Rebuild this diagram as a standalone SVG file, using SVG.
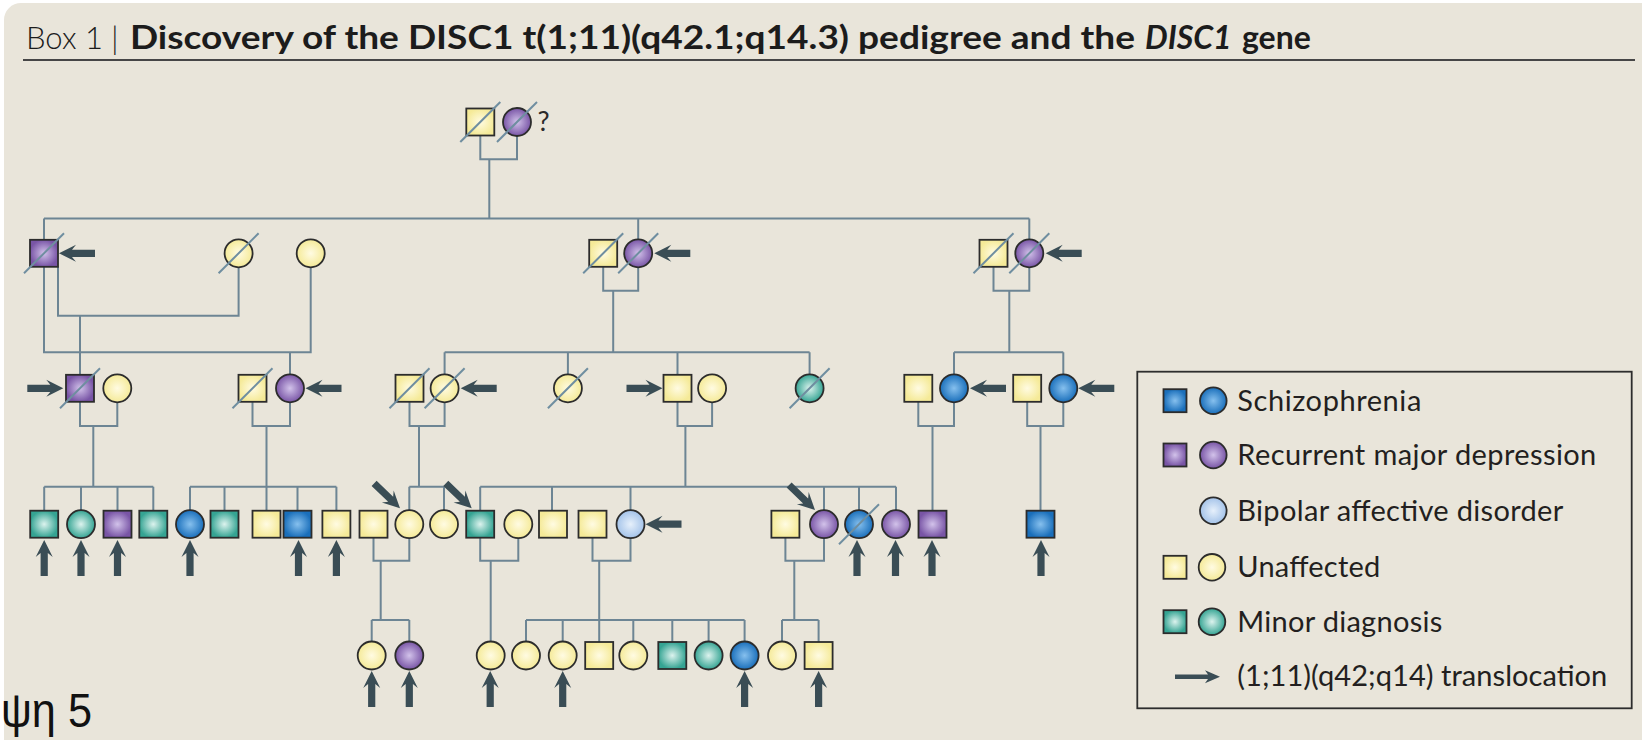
<svg xmlns="http://www.w3.org/2000/svg" xmlns:xlink="http://www.w3.org/1999/xlink" width="1642" height="740" viewBox="0 0 1642 740">
<style>
.ln{fill:none;stroke:#6d8594;stroke-width:2}
.s{stroke:#2c2c2c;stroke-width:1.8}
.sl{stroke:#6f8ea0;stroke-width:2}
.ar{fill:#3a4d55}
.Y{fill:url(#gY)}.P{fill:url(#gP)}.B{fill:url(#gB)}.L{fill:url(#gL)}.T{fill:url(#gT)}
.lg{font-family:Lato,"Open Sans","Liberation Sans",sans-serif;font-size:29px;fill:#231f20}
.tt{font-family:Lato,"Open Sans","Liberation Sans",sans-serif;font-size:32px;fill:#1c1c1c}
</style>
<defs>
<radialGradient id="gY"><stop offset="0" stop-color="#fffbe2"/><stop offset="1" stop-color="#f5ea98"/></radialGradient>
<radialGradient id="gP"><stop offset="0" stop-color="#d2c2ea"/><stop offset="1" stop-color="#7955a6"/></radialGradient>
<radialGradient id="gB"><stop offset="0" stop-color="#86c0ee"/><stop offset="1" stop-color="#1a6fbb"/></radialGradient>
<radialGradient id="gL"><stop offset="0" stop-color="#e6f0fb"/><stop offset="1" stop-color="#a4c3e9"/></radialGradient>
<radialGradient id="gT"><stop offset="0" stop-color="#dcf3ee"/><stop offset="1" stop-color="#35a493"/></radialGradient>
<path id="arw" d="M0,0 L-17,-8.5 L-13,-3.6 L-36,-3.6 L-36,3.6 L-13,3.6 L-17,8.5 Z"/>
<path id="arwS" d="M0,0 L-15,-6.5 L-12,-2.3 L-45,-2.3 L-45,2.3 L-12,2.3 L-15,6.5 Z"/>
</defs>
<rect x="0" y="0" width="1642" height="740" fill="#ffffff"/>
<rect x="4" y="3" width="1680" height="780" rx="17" fill="#e9e5da"/>
<g id="title">
<line x1="23" y1="60" x2="1635" y2="60" stroke="#464646" stroke-width="2.2"/>
<text class="tt" x="26" y="48.5" font-weight="300" textLength="77" lengthAdjust="spacingAndGlyphs">Box 1</text>
<text class="tt" x="111" y="48.5" font-weight="300">|</text>
<text class="tt" x="130" y="48.5" font-weight="700" textLength="1005" lengthAdjust="spacingAndGlyphs">Discovery of the DISC1 t(1;11)(q42.1;q14.3) pedigree and the</text>
<text class="tt" x="1145" y="48.5" font-weight="700" font-style="italic">DISC1</text>
<text class="tt" x="1242" y="48.5" font-weight="700">gene</text>
</g>
<text x="1" y="727" font-family="'Liberation Sans',sans-serif" font-size="48" fill="#111" textLength="91" lengthAdjust="spacingAndGlyphs">ψη 5</text>
<g id="connectors" class="ln">
<path d="M480.3,122 V159.3 H517 V122 M489.3,159.3 V218.5"/>
<path d="M44,218.5 H1029.3 M44,218.5 V253.3 M638.2,218.5 V253.3 M1029.3,218.5 V253.3"/>
<path d="M58,266.8 V315.7 H238.6 V253.3 M80,315.7 V388.3"/>
<path d="M44,253.3 V352.3 H310.7 V253.3 M290,352.3 V388.3"/>
<path d="M603.2,253.3 V290.7 H638.2 V253.3 M613.2,290.7 V352.3 M444.6,352.3 H809.6 M444.6,352.3 V388.3 M567.9,352.3 V388.3 M677.5,352.3 V388.3 M809.6,352.3 V388.3"/>
<path d="M993.5,253.3 V290.7 H1029.3 V253.3 M1009.3,290.7 V352.3 M954,352.3 H1063.3 M954,352.3 V388.3 M1063.3,352.3 V388.3"/>
<path d="M80,388.3 V426 H117.3 V388.3 M93.3,426 V486.7 M44.2,486.7 H153.3 M44.2,486.7 V524 M81,486.7 V524 M117.5,486.7 V524 M153.3,486.7 V524"/>
<path d="M252.5,388.3 V426 H290 V388.3 M266.5,426 V524 M190,486.7 H336.4 M190,486.7 V524 M224.5,486.7 V524 M297.5,486.7 V524 M336.4,486.7 V524"/>
<path d="M409.5,388.3 V426 H444.6 V388.3 M419,426 V486.7 M409.3,486.7 H444 M409.3,486.7 V524 M444,486.7 V524"/>
<path d="M677.5,388.3 V426 H712.1 V388.3 M685.4,426 V486.7 M480.2,486.7 H896 M480.2,486.7 V524 M552,486.7 V524 M630.5,486.7 V524 M824,486.7 V524 M859,486.7 V524 M896,486.7 V524"/>
<path d="M918.3,388.3 V426 H954 V388.3 M932.5,426 V524"/>
<path d="M1027.2,388.3 V426 H1063.3 V388.3 M1040.5,426 V524"/>
<path d="M373.5,524 V560.7 H409.3 V524 M380.7,560.7 V620 M371.7,620 H409.3 M371.7,620 V655 M409.3,620 V655"/>
<path d="M480.2,524 V560.7 H518.3 V524 M490.7,560.7 V655"/>
<path d="M592.5,524 V560.7 H630.5 V524 M599.2,560.7 V655 M526,620 H744.6 M526,620 V655 M562.7,620 V655 M633.3,620 V655 M672.3,620 V655 M708.6,620 V655 M744.6,620 V655"/>
<path d="M785.4,524 V560.7 H824 V524 M794.3,560.7 V620 M782,620 H818.6 M782,620 V655 M818.6,620 V655"/>
</g>
<g id="I1"><rect class="s Y" x="466.3" y="108.5" width="28" height="27"/><line class="sl" x1="460.3" y1="142" x2="500.3" y2="102"/></g>
<g id="I2"><circle class="s P" cx="517" cy="122" r="14"/><line class="sl" x1="497" y1="142" x2="537" y2="102"/><text x="537.5" y="131" font-family="Lato,'Liberation Sans',sans-serif" font-size="27" fill="#2a2a2a">?</text></g>
<g id="II1"><rect class="s P" x="30" y="239.8" width="28" height="27"/><line class="sl" x1="24" y1="273.3" x2="64" y2="233.3"/><use href="#arw" class="ar" transform="translate(59,253.3) rotate(180)"/></g>
<g id="II2"><circle class="s Y" cx="238.6" cy="253.3" r="14"/><line class="sl" x1="218.6" y1="273.3" x2="258.6" y2="233.3"/></g>
<g id="II3"><circle class="s Y" cx="310.7" cy="253.3" r="14"/></g>
<g id="II4"><rect class="s Y" x="589.2" y="239.8" width="28" height="27"/><line class="sl" x1="583.2" y1="273.3" x2="623.2" y2="233.3"/></g>
<g id="II5"><circle class="s P" cx="638.2" cy="253.3" r="14"/><line class="sl" x1="618.2" y1="273.3" x2="658.2" y2="233.3"/><use href="#arw" class="ar" transform="translate(654.3,253.3) rotate(180)"/></g>
<g id="II6"><rect class="s Y" x="979.5" y="239.8" width="28" height="27"/><line class="sl" x1="973.5" y1="273.3" x2="1013.5" y2="233.3"/></g>
<g id="II7"><circle class="s P" cx="1029.3" cy="253.3" r="14"/><line class="sl" x1="1009.3" y1="273.3" x2="1049.3" y2="233.3"/><use href="#arw" class="ar" transform="translate(1045.7,253.3) rotate(180)"/></g>
<g id="III1"><rect class="s P" x="66" y="374.8" width="28" height="27"/><line class="sl" x1="60" y1="408.3" x2="100" y2="368.3"/><use href="#arw" class="ar" transform="translate(63.3,388.3)"/></g>
<g id="III2"><circle class="s Y" cx="117.3" cy="388.3" r="14"/></g>
<g id="III3"><rect class="s Y" x="238.5" y="374.8" width="28" height="27"/><line class="sl" x1="232.5" y1="408.3" x2="272.5" y2="368.3"/></g>
<g id="III4"><circle class="s P" cx="290" cy="388.3" r="14"/><use href="#arw" class="ar" transform="translate(305.5,388.3) rotate(180)"/></g>
<g id="III5"><rect class="s Y" x="395.5" y="374.8" width="28" height="27"/><line class="sl" x1="389.5" y1="408.3" x2="429.5" y2="368.3"/></g>
<g id="III6"><circle class="s Y" cx="444.6" cy="388.3" r="14"/><line class="sl" x1="424.6" y1="408.3" x2="464.6" y2="368.3"/><use href="#arw" class="ar" transform="translate(460.7,388.3) rotate(180)"/></g>
<g id="III7"><circle class="s Y" cx="567.9" cy="388.3" r="14"/><line class="sl" x1="547.9" y1="408.3" x2="587.9" y2="368.3"/></g>
<g id="III8"><rect class="s Y" x="663.5" y="374.8" width="28" height="27"/><use href="#arw" class="ar" transform="translate(662.5,388.3)"/></g>
<g id="III9"><circle class="s Y" cx="712.1" cy="388.3" r="14"/></g>
<g id="III10"><circle class="s T" cx="809.6" cy="388.3" r="14"/><line class="sl" x1="789.6" y1="408.3" x2="829.6" y2="368.3"/></g>
<g id="III11"><rect class="s Y" x="904.3" y="374.8" width="28" height="27"/></g>
<g id="III12"><circle class="s B" cx="954" cy="388.3" r="14"/><use href="#arw" class="ar" transform="translate(970,388.3) rotate(180)"/></g>
<g id="III13"><rect class="s Y" x="1013.2" y="374.8" width="28" height="27"/></g>
<g id="III14"><circle class="s B" cx="1063.3" cy="388.3" r="14"/><use href="#arw" class="ar" transform="translate(1078.3,388.3) rotate(180)"/></g>
<g id="IV1"><rect class="s T" x="30.2" y="510.7" width="28" height="27"/><use href="#arw" class="ar" transform="translate(44.2,540) rotate(-90)"/></g>
<g id="IV2"><circle class="s T" cx="81" cy="524.2" r="14"/><use href="#arw" class="ar" transform="translate(81,540) rotate(-90)"/></g>
<g id="IV3"><rect class="s P" x="103.5" y="510.7" width="28" height="27"/><use href="#arw" class="ar" transform="translate(117.5,540) rotate(-90)"/></g>
<g id="IV4"><rect class="s T" x="139.3" y="510.7" width="28" height="27"/></g>
<g id="IV5"><circle class="s B" cx="190" cy="524.2" r="14"/><use href="#arw" class="ar" transform="translate(190,540) rotate(-90)"/></g>
<g id="IV6"><rect class="s T" x="210.5" y="510.7" width="28" height="27"/></g>
<g id="IV7"><rect class="s Y" x="252.5" y="510.7" width="28" height="27"/></g>
<g id="IV8"><rect class="s B" x="283.5" y="510.7" width="28" height="27"/><use href="#arw" class="ar" transform="translate(298.5,540) rotate(-90)"/></g>
<g id="IV9"><rect class="s Y" x="322.4" y="510.7" width="28" height="27"/><use href="#arw" class="ar" transform="translate(336.4,540) rotate(-90)"/></g>
<g id="IV10"><rect class="s Y" x="359.5" y="510.7" width="28" height="27"/></g>
<g id="IV11"><circle class="s Y" cx="409.3" cy="524.2" r="14"/><use href="#arw" class="ar" transform="translate(400,508.3) rotate(44)"/></g>
<g id="IV12"><circle class="s Y" cx="444" cy="524.2" r="14"/></g>
<g id="IV13"><rect class="s T" x="466.2" y="510.7" width="28" height="27"/><use href="#arw" class="ar" transform="translate(471.7,508.3) rotate(44)"/></g>
<g id="IV14"><circle class="s Y" cx="518.3" cy="524.2" r="14"/></g>
<g id="IV15"><rect class="s Y" x="539" y="510.7" width="28" height="27"/></g>
<g id="IV16"><rect class="s Y" x="578.5" y="510.7" width="28" height="27"/></g>
<g id="IV17"><circle class="s L" cx="630.5" cy="524.2" r="14"/><use href="#arw" class="ar" transform="translate(645.5,524.2) rotate(180)"/></g>
<g id="IV18"><rect class="s Y" x="771.4" y="510.7" width="28" height="27"/></g>
<g id="IV19"><circle class="s P" cx="824" cy="524.2" r="14"/><use href="#arw" class="ar" transform="translate(815,510) rotate(44)"/></g>
<g id="IV20"><circle class="s B" cx="859" cy="524.2" r="14"/><line class="sl" x1="839" y1="544.2" x2="879" y2="504.2"/><use href="#arw" class="ar" transform="translate(857,540) rotate(-90)"/></g>
<g id="IV21"><circle class="s P" cx="896" cy="524.2" r="14"/><use href="#arw" class="ar" transform="translate(895.5,540) rotate(-90)"/></g>
<g id="IV22"><rect class="s P" x="918.5" y="510.7" width="28" height="27"/><use href="#arw" class="ar" transform="translate(932,540) rotate(-90)"/></g>
<g id="IV23"><rect class="s B" x="1026.5" y="510.7" width="28" height="27"/><use href="#arw" class="ar" transform="translate(1041,540) rotate(-90)"/></g>
<g id="V1"><circle class="s Y" cx="371.7" cy="655.5" r="14"/><use href="#arw" class="ar" transform="translate(371.7,671) rotate(-90)"/></g>
<g id="V2"><circle class="s P" cx="409.3" cy="655.5" r="14"/><use href="#arw" class="ar" transform="translate(409.3,671) rotate(-90)"/></g>
<g id="V3"><circle class="s Y" cx="490.7" cy="655.5" r="14"/><use href="#arw" class="ar" transform="translate(490.2,671) rotate(-90)"/></g>
<g id="V4"><circle class="s Y" cx="526" cy="655.5" r="14"/></g>
<g id="V5"><circle class="s Y" cx="562.7" cy="655.5" r="14"/><use href="#arw" class="ar" transform="translate(562.7,671) rotate(-90)"/></g>
<g id="V6"><rect class="s Y" x="585.2" y="642" width="28" height="27"/></g>
<g id="V7"><circle class="s Y" cx="633.3" cy="655.5" r="14"/></g>
<g id="V8"><rect class="s T" x="658.3" y="642" width="28" height="27"/></g>
<g id="V9"><circle class="s T" cx="708.6" cy="655.5" r="14"/></g>
<g id="V10"><circle class="s B" cx="744.6" cy="655.5" r="14"/><use href="#arw" class="ar" transform="translate(744.6,671) rotate(-90)"/></g>
<g id="V11"><circle class="s Y" cx="782" cy="655.5" r="14"/></g>
<g id="V12"><rect class="s Y" x="804.6" y="642" width="28" height="27"/><use href="#arw" class="ar" transform="translate(818.6,671) rotate(-90)"/></g>
<g id="legend">
<rect x="1137.3" y="371.7" width="494.4" height="336.6" fill="none" stroke="#2d2d2d" stroke-width="1.8"/>
<rect class="s B" x="1163.5" y="389.2" width="23" height="23"/><circle class="s B" cx="1213.3" cy="400.7" r="13.3"/>
<text class="lg" x="1237.3" y="410.5" textLength="184">Schizophrenia</text>
<rect class="s P" x="1163.5" y="443.5" width="23" height="23"/><circle class="s P" cx="1213.3" cy="455" r="13.3"/>
<text class="lg" x="1237.3" y="465" textLength="359">Recurrent major depression</text>
<circle class="s L" cx="1213.3" cy="510.7" r="13.3"/>
<text class="lg" x="1237.3" y="520.7" textLength="326">Bipolar affective disorder</text>
<rect class="s Y" x="1163.5" y="555.8" width="23" height="23"/><circle class="s Y" cx="1212" cy="567.3" r="13.3"/>
<text class="lg" x="1237.3" y="577.3" textLength="143">Unaffected</text>
<rect class="s T" x="1163.5" y="610.2" width="23" height="23"/><circle class="s T" cx="1212" cy="621.7" r="13.3"/>
<text class="lg" x="1237.3" y="631.7" textLength="205">Minor diagnosis</text>
<use href="#arwS" class="ar" transform="translate(1220,676.7)"/>
<text class="lg" x="1237.3" y="686" textLength="370">(1;11)(q42;q14) translocation</text>
</g>
</svg>
